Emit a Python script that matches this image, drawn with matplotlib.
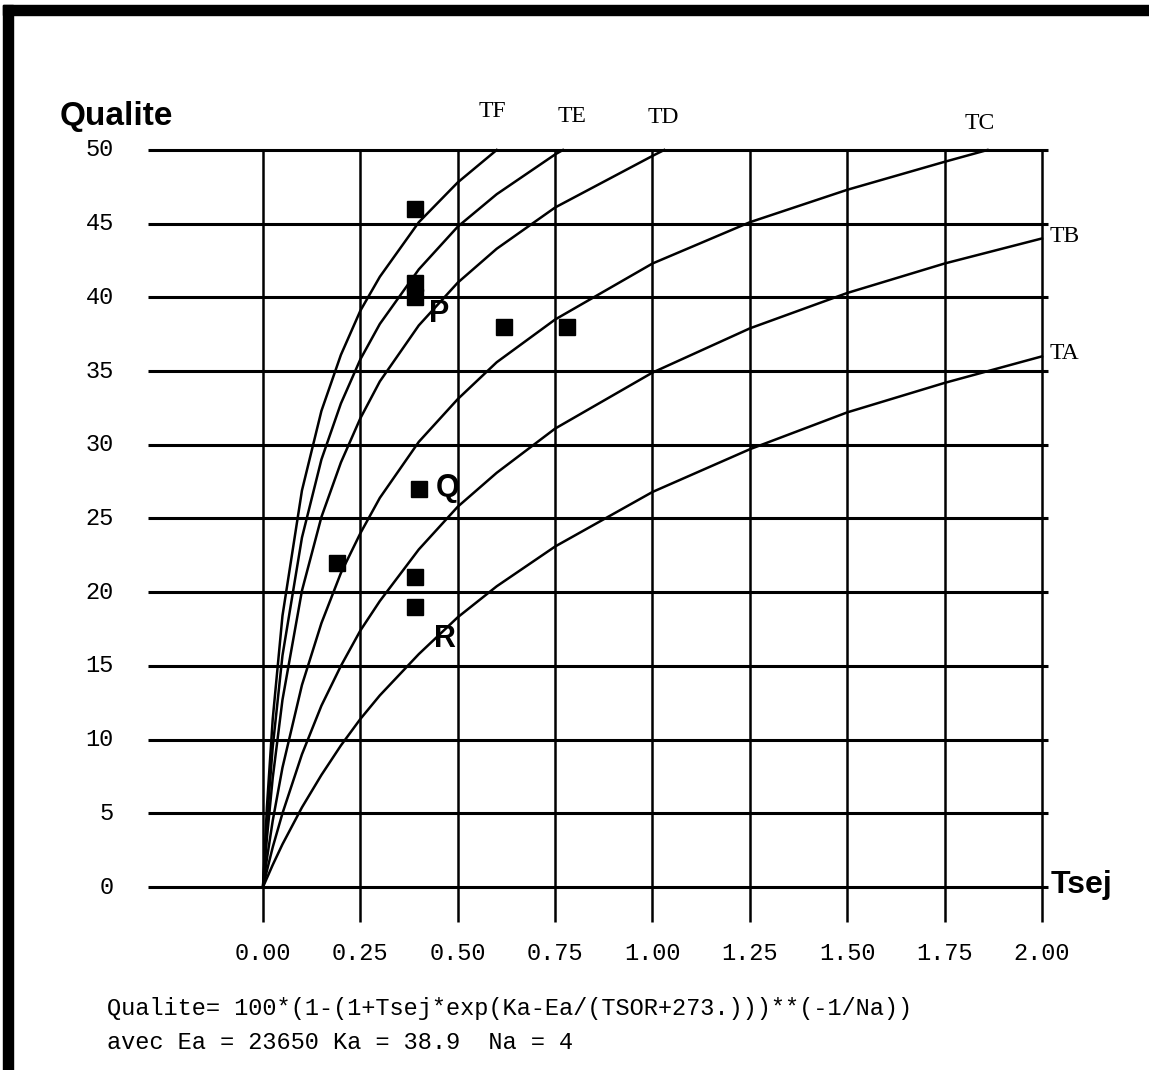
import matplotlib.pyplot as plt
from matplotlib.patches import Rectangle

# curves (Tsej, Qualite)
ta_x = [0, 0.01, 0.025, 0.05, 0.1, 0.15, 0.2, 0.25, 0.3, 0.4, 0.5, 0.6, 0.75, 1.0, 1.25, 1.5, 1.75, 2.0]
ta_y = [0, 0.6, 1.5, 2.9, 5.4, 7.6, 9.6, 11.4, 13.0, 15.8, 18.3, 20.4, 23.1, 26.8, 29.7, 32.2, 34.2, 36.0]
tb_x = [0, 0.01, 0.025, 0.05, 0.1, 0.15, 0.2, 0.25, 0.3, 0.4, 0.5, 0.6, 0.75, 1.0, 1.25, 1.5, 1.75, 2.0]
tb_y = [0, 1.1, 2.7, 5.0, 9.0, 12.3, 15.0, 17.4, 19.4, 22.9, 25.8, 28.1, 31.1, 34.9, 37.9, 40.3, 42.3, 44.0]
tc_x = [0, 0.01, 0.025, 0.05, 0.1, 0.15, 0.2, 0.25, 0.3, 0.4, 0.5, 0.6, 0.75, 1.0, 1.25, 1.5, 1.75, 1.86]
tc_y = [0, 1.9, 4.5, 8.1, 13.7, 17.9, 21.3, 24.0, 26.4, 30.2, 33.1, 35.6, 38.5, 42.3, 45.1, 47.3, 49.2, 50.0]
td_x = [0, 0.01, 0.025, 0.05, 0.1, 0.15, 0.2, 0.25, 0.3, 0.4, 0.5, 0.6, 0.75, 1.0, 1.03]
td_y = [0, 3.3, 7.4, 12.7, 20.1, 25.1, 28.8, 31.8, 34.3, 38.1, 41.0, 43.3, 46.1, 49.6, 50.0]
te_x = [0, 0.01, 0.025, 0.05, 0.1, 0.15, 0.2, 0.25, 0.3, 0.4, 0.5, 0.6, 0.75, 0.77]
te_y = [0, 4.4, 9.5, 15.7, 23.7, 29.0, 32.8, 35.8, 38.2, 41.9, 44.8, 47.0, 49.7, 50.0]
tf_x = [0, 0.01, 0.025, 0.05, 0.1, 0.15, 0.2, 0.25, 0.3, 0.4, 0.5, 0.6]
tf_y = [0, 5.4, 11.4, 18.4, 26.9, 32.3, 36.1, 39.1, 41.4, 45.1, 47.8, 50.0]

# measured samples
samp_x = [0.39, 0.39, 0.39, 0.62, 0.78, 0.19, 0.40, 0.39, 0.39]
samp_y = [46, 41, 40, 38, 38, 22, 27, 21, 19]

x_ticks = [0, 0.25, 0.5, 0.75, 1.0, 1.25, 1.5, 1.75, 2.0]
x_labels = ['0.00', '0.25', '0.50', '0.75', '1.00', '1.25', '1.50', '1.75', '2.00']
y_ticks = [0, 5, 10, 15, 20, 25, 30, 35, 40, 45, 50]
y_labels = ['0', '5', '10', '15', '20', '25', '30', '35', '40', '45', '50']

mono = 'Liberation Mono'
serif = 'Liberation Serif'
sans = 'Liberation Sans'

fig = plt.figure(figsize=(11.49, 10.70), dpi=100)
ax = fig.add_axes([0, 0, 1, 1])
ax.set_xlim(-0.6752, 2.2747)
ax.set_ylim(-12.415, 60.176)
ax.axis('off')

# grid
for y in y_ticks:
    ax.plot([-0.295, 2.015], [y, y], color='black', lw=2.2, solid_capstyle='butt')
for x in x_ticks:
    ax.plot([x, x], [-2.4, 50], color='black', lw=1.8, solid_capstyle='butt')

# curves
for cx, cy in [(ta_x, ta_y), (tb_x, tb_y), (tc_x, tc_y), (td_x, td_y), (te_x, te_y), (tf_x, tf_y)]:
    ax.plot(cx, cy, color='black', lw=1.8)

ax.plot(samp_x, samp_y, 's', color='black', ms=11.5)

# tick labels
for y, lab in zip(y_ticks, y_labels):
    ax.text(-0.383, y, lab, fontsize=17, family=mono, ha='right', va='center')
for x, lab in zip(x_ticks, x_labels):
    ax.text(x, -4.5, lab, fontsize=17, family=mono, ha='center', va='center')

# curve names
ax.text(0.588, 52.6, 'TF', fontsize=17, family=serif, ha='center', va='center')
ax.text(0.793, 52.3, 'TE', fontsize=17, family=serif, ha='center', va='center')
ax.text(1.027, 52.2, 'TD', fontsize=17, family=serif, ha='center', va='center')
ax.text(1.841, 51.8, 'TC', fontsize=17, family=serif, ha='center', va='center')
ax.text(2.02, 44.1, 'TB', fontsize=17, family=serif, ha='left', va='center')
ax.text(2.02, 36.2, 'TA', fontsize=17, family=serif, ha='left', va='center')

# point names
ax.text(0.452, 38.9, 'P', fontsize=22, family=sans, weight='bold', ha='center', va='center')
ax.text(0.475, 27.1, 'Q', fontsize=22, family=sans, weight='bold', ha='center', va='center')
ax.text(0.467, 16.8, 'R', fontsize=22, family=sans, weight='bold', ha='center', va='center')

# axis names
ax.text(-0.521, 51.7, 'Qualite', fontsize=24, family=sans, weight='bold', ha='left', va='baseline')
ax.text(2.021, -0.41, 'Tsej', fontsize=23, family=sans, weight='bold', ha='left', va='baseline')

# formula
ax.text(-0.4005, -8.21, 'Qualite= 100*(1-(1+Tsej*exp(Ka-Ea/(TSOR+273.)))**(-1/Na))',
        fontsize=17, family=mono, ha='left', va='center')
ax.text(-0.4005, -10.52, 'avec Ea = 23650 Ka = 38.9  Na = 4',
        fontsize=17, family=mono, ha='left', va='center')

# frame
fig.add_artist(Rectangle((3 / 1149, 0), 10 / 1149, 1 - 5 / 1070, transform=fig.transFigure, color='black'))
fig.add_artist(Rectangle((3 / 1149, 1 - 15 / 1070), 1, 10 / 1070, transform=fig.transFigure, color='black'))

fig.savefig('out.png', dpi=100)
